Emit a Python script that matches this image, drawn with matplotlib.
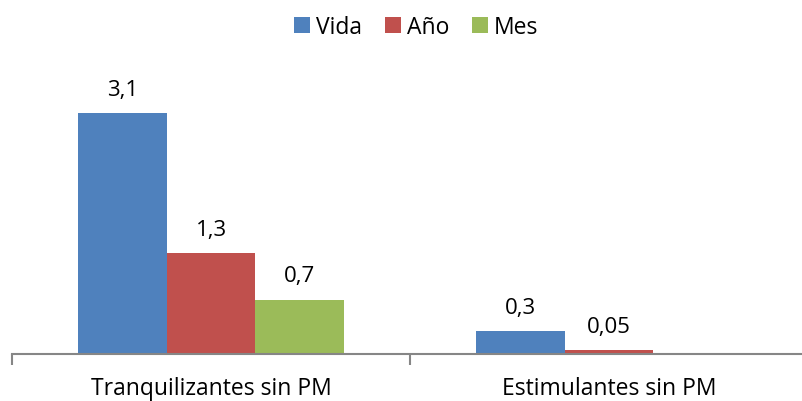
import numpy as np
import matplotlib.pyplot as plt

categories = ['Tranquilizantes sin PM', 'Estimulantes sin PM']
series = ['Vida', 'Año', 'Mes']
vida = [3.1, 0.3]
anio = [1.3, 0.05]
mes = [0.7, 0]
labels_vida = ['3,1', '0,3']
labels_anio = ['1,3', '0,05']
labels_mes = ['0,7', '']

colors = ['#4F81BD', '#C0504D', '#9BBB59']
plt.rcParams['font.family'] = ['Open Sans', 'DejaVu Sans']

fig = plt.figure(figsize=(8.02, 4.02), dpi=100)
ax = fig.add_axes([12 / 802, 47 / 402, 796 / 802, 272 / 402])

x = np.arange(len(categories))
w = 0.223
data = [vida, anio, mes]
labs = [labels_vida, labels_anio, labels_mes]
for i, (vals, lab) in enumerate(zip(data, labs)):
    pos = x + (i - 1) * w
    bars = ax.bar(pos, vals, w, color=colors[i], label=series[i])
    for b, v, t in zip(bars, vals, lab):
        if t:
            ax.annotate(t, (b.get_x() + w / 2, v), xytext=(0, 17), textcoords='offset points',
                        ha='center', va='center', fontsize=16)

ax.set_xlim(-0.5, 1.5)
ax.set_ylim(0, 3.5)
ax.set_yticks([])
ax.set_xticks([-0.5, 0.5, 1.5])
ax.set_xticklabels([])
ax.set_xticks(x, minor=True)
ax.set_xticklabels(categories, minor=True, fontsize=16.5)
ax.tick_params(axis='x', which='minor', length=0, pad=16)
ax.tick_params(axis='x', which='major', length=8, width=1.5, color='#868686')
for s in ['top', 'right', 'left']:
    ax.spines[s].set_visible(False)
ax.spines['bottom'].set_color('#868686')
ax.spines['bottom'].set_linewidth(1.5)

fig.legend(loc='center', bbox_to_anchor=(416 / 802, 1 - 28 / 402), ncol=3, frameon=False,
           fontsize=16.5, handlelength=0.7, handleheight=0.7, handletextpad=0.25, columnspacing=1.0)

fig.savefig('out.png', dpi=100)
